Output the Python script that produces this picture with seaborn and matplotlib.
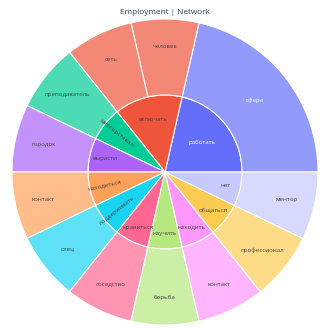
import numpy as np
import matplotlib
matplotlib.use("Agg")
import matplotlib.pyplot as plt
import seaborn as sns

# ---- data ----
title = "Employment | Network"
inner_labels = ["работать", "включать", "многорставал", "вырасти", "находиться",
                "поддерживать", "нравиться", "научить", "находить", "общаться", "нет"]
inner_values = [3, 2, 1, 1, 1, 1, 1, 1, 1, 1, 1]
outer_labels = ["сфера", "человек", "сеть", "преподаватель", "городок", "контакт",
                "отец", "соседство", "борьба", "контакт", "профессионал", "ментор"]
outer_parents = ["работать", "включать", "включать", "многорставал", "вырасти", "находиться",
                 "поддерживать", "нравиться", "научить", "находить", "общаться", "нет"]
outer_values = [3, 1, 1, 1, 1, 1, 1, 1, 1, 1, 1, 1]

# ---- style ----
sns.set_theme(style="white")
plt.rcParams['font.family'] = ['Open Sans', 'DejaVu Sans']

plotly_colors = ["#636EFA", "#EF553B", "#00CC96", "#AB63FA", "#FFA15A",
                 "#19D3F3", "#FF6692", "#B6E880", "#FF97FF", "#FECB52", "#C6CAFD"]
pal = sns.color_palette(plotly_colors)
inner_colors = {lab: pal[i] for i, lab in enumerate(inner_labels)}


def lighten(c, a=0.7):
    return tuple(a * x + (1 - a) * 1.0 for x in c)


outer_colors = [lighten(inner_colors[p]) for p in outer_parents]
radial_labels = {"многорставал", "находиться", "поддерживать"}
white_text = {"работать", "сфера"}

R_OUT, R_IN = 153, 77
fig = plt.figure(figsize=(3.3, 3.3), dpi=100)
ax = fig.add_axes([0, 0, 1, 1])

ax.pie(inner_values, radius=R_IN, startangle=0, counterclock=True,
       colors=[inner_colors[l] for l in inner_labels],
       wedgeprops=dict(edgecolor="white", linewidth=0.8))
ax.pie(outer_values, radius=R_OUT, startangle=0, counterclock=True,
       colors=outer_colors,
       wedgeprops=dict(width=R_OUT - R_IN, edgecolor="white", linewidth=0.8))

txt_dark = "#444444"
fs = 4.4

# inner labels
tot = sum(inner_values)
cum = np.concatenate([[0], np.cumsum(inner_values)])
for i, lab in enumerate(inner_labels):
    mid = (cum[i] + cum[i + 1]) / 2 / tot * 360
    v = inner_values[i]
    r = {1: 62, 2: 54, 3: 47}[v]
    x, y = r * np.cos(np.radians(mid)), r * np.sin(np.radians(mid))
    rot = 0
    if lab in radial_labels:
        rot = mid
        if 90 < rot < 270:
            rot -= 180
    ax.text(x, y, lab, ha="center", va="center", rotation=rot, fontsize=fs,
            color="white" if lab in white_text else txt_dark, rotation_mode="anchor")

# outer labels
tot_o = sum(outer_values)
cum_o = np.concatenate([[0], np.cumsum(outer_values)])
for i, lab in enumerate(outer_labels):
    mid = (cum_o[i] + cum_o[i + 1]) / 2 / tot_o * 360
    r = 115 if outer_values[i] > 1 else 125
    x, y = r * np.cos(np.radians(mid)), r * np.sin(np.radians(mid))
    ax.text(x, y, lab, ha="center", va="center", fontsize=fs,
            color="white" if lab in white_text else txt_dark)

ax.text(0, 160, title, ha="center", va="center", fontsize=5.9, color="#2a3f5f")

ax.set_xlim(-165, 165)
ax.set_ylim(-158, 172)
ax.set_aspect("equal")
ax.axis("off")
fig.savefig("out.png", dpi=100, facecolor="white")
